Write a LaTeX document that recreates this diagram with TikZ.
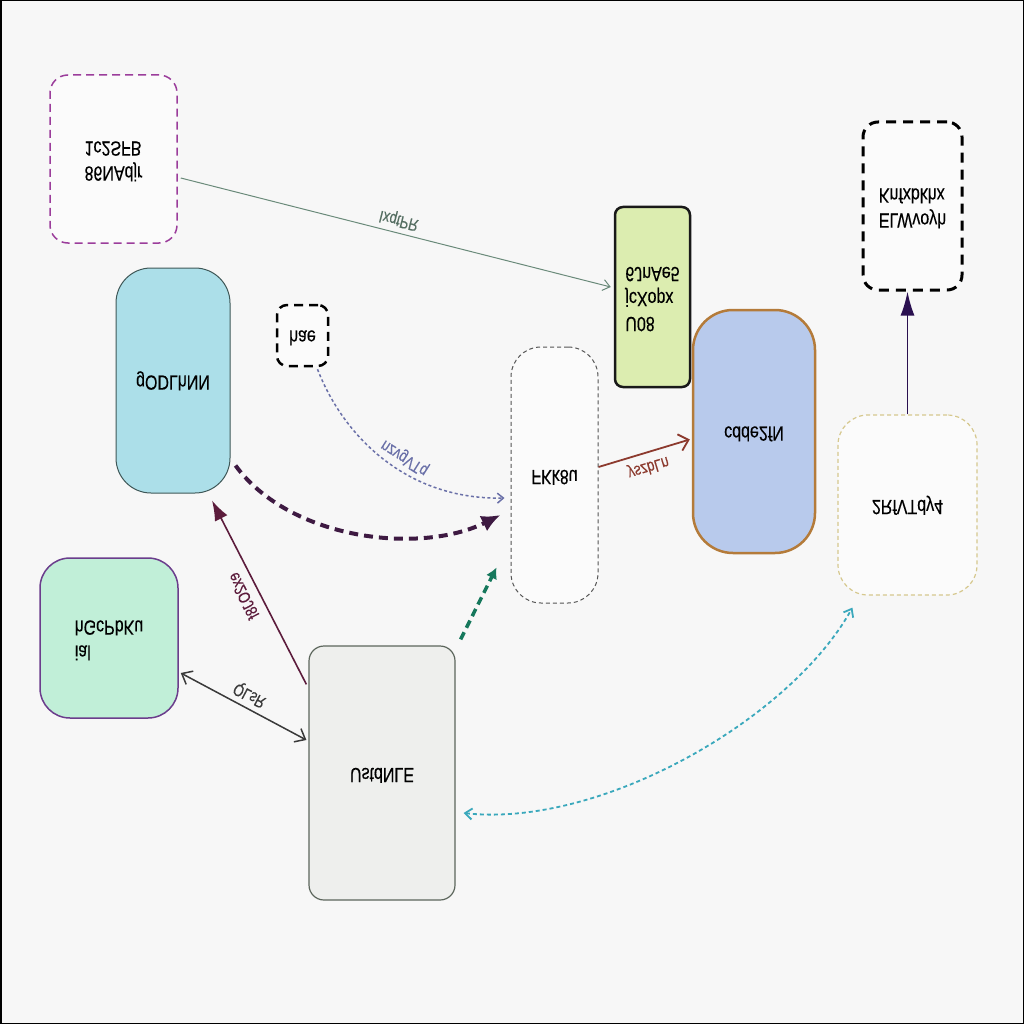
\documentclass[tikz,border=0pt]{standalone}
\usepackage{fontspec}
\setmainfont{Liberation Sans}
\usetikzlibrary{arrows.meta,calc}
\definecolor{bg}{HTML}{F7F7F7}
\definecolor{cA}{HTML}{9B3D9B}
\definecolor{cEa}{HTML}{6A8A7A}
\definecolor{cB}{HTML}{ACDFE9}
\definecolor{cBd}{HTML}{3F5858}
\definecolor{cD}{HTML}{DCEDB0}
\definecolor{cE}{HTML}{B8CAEC}
\definecolor{cEd}{HTML}{B47B3A}
\definecolor{cF}{HTML}{555555}
\definecolor{cH}{HTML}{D6C88E}
\definecolor{cI}{HTML}{C1EFD8}
\definecolor{cId}{HTML}{6B3D8C}
\definecolor{cJ}{HTML}{EEEFED}
\definecolor{cJd}{HTML}{5C665C}
\definecolor{cEb}{HTML}{6A70A8}
\definecolor{cEc}{HTML}{3E1A42}
\definecolor{cEd4}{HTML}{5C1C3C}
\definecolor{cEe}{HTML}{3A3A3A}
\definecolor{cEf}{HTML}{16785C}
\definecolor{cEg}{HTML}{8C3A2E}
\definecolor{cEh}{HTML}{2A1050}
\definecolor{cEi}{HTML}{3AA8BC}
\newcommand{\fl}[1]{\scalebox{0.78}[-1]{\addfontfeatures{FakeBold=0.35}\begin{tabular}{@{}l@{}}#1\end{tabular}}}
\begin{document}
\begin{tikzpicture}[x=1pt,y=-1pt,
  every node/.style={font=\fontsize{20.5}{25}\selectfont},
  box/.style={rectangle, inner sep=0pt, align=center},
  lbl/.style={font=\fontsize{17}{20}\selectfont, inner sep=3pt}]
\useasboundingbox (0,0) rectangle (1024,1024);
\fill[bg] (0,0) rectangle (1024,1024);
\draw[black, line width=1.5pt] (0.75,0.75) rectangle (1023.25,1023.25);

\node[box, draw=cA, line width=1.5pt, dash pattern=on 8pt off 5pt, fill=white!50!bg, rounded corners=18pt, minimum width=127pt, minimum height=168pt] (A) at (113.5,159) {\fl{86NAdjr\\1c2SFB}};
\node[box, draw=cBd, line width=1pt, fill=cB, rounded corners=35pt, minimum width=114pt, minimum height=225pt] (B) at (173,380.5) {\fl{gODLhNN}};
\node[box, draw=black, line width=2.5pt, dash pattern=on 9pt off 6pt, fill=white!50!bg, rounded corners=10pt, minimum width=51pt, minimum height=61pt] (C) at (302.5,335.5) {\fl{hae}};
\node[box, draw=black!90, line width=2.5pt, fill=cD, rounded corners=8pt, minimum width=75pt, minimum height=180pt] (D) at (652.5,297) {\fl{U08\\jcXopx\\6JnAe5}};
\node[box, draw=cEd, line width=2.5pt, fill=cE, rounded corners=40pt, minimum width=122pt, minimum height=243pt] (E) at (754,431.5) {\fl{cdde2fN}};
\node[box, draw=cF, line width=1pt, dash pattern=on 4pt off 3pt, fill=white!50!bg, rounded corners=30pt, minimum width=87pt, minimum height=256pt] (F) at (554.5,475) {\fl{FKk8u}};
\node[box, draw=black, line width=3pt, dash pattern=on 10pt off 7pt, fill=white!50!bg, rounded corners=15pt, minimum width=99pt, minimum height=168pt] (G) at (912.5,206) {\fl{ELWvoyh\\Knfxbkhx}};
\node[box, draw=cH, line width=1.2pt, dash pattern=on 4pt off 3pt, fill=white!50!bg, rounded corners=30pt, minimum width=139pt, minimum height=180pt] (H) at (907.5,505) {\fl{2RfVTdy4}};
\node[box, draw=cId, line width=1.5pt, fill=cI, rounded corners=30pt, minimum width=138pt, minimum height=160pt] (I) at (109,638) {\fl{ial\\hGcPbKu}};
\node[box, draw=cJd, line width=1.2pt, fill=cJ, rounded corners=15pt, minimum width=146pt, minimum height=254pt] (J) at (382,773) {\fl{UstdNLE}};

% A -> D
\draw[cEa, line width=1pt, -{Straight Barb[length=7pt,width=11pt]}] ($(A.east)+(3,19)$) -- node[lbl, sloped, above, text=cEa!80!black] {\fl{IxqtPR}} ($(D.west)+(-3,-10)$);
% C -> F
\draw[cEb, line width=1.5pt, dash pattern=on 3pt off 2.5pt, -{Straight Barb[length=6pt,width=10pt]}] ($(C.south)+(15,2)$) .. controls (345,440) and (410,500) .. ($(F.west)+(-6,23)$) node[lbl, pos=0.56, sloped, above, text=cEb] {\fl{nzvgVTq}};
% B -> F
\draw[cEc, line width=4pt, dash pattern=on 9pt off 6pt, -{Latex[length=19pt,width=17pt]}] ($(B.south east)+(5,-28)$) .. controls (290,540) and (420,555) .. ($(F.west)+(-10,40)$);
% J -> B
\draw[cEd4, line width=1.6pt, -{Latex[length=20pt,width=14pt]}] ($(J.north west)+(-2,39)$) -- node[lbl, sloped, below, pos=0.52, text=cEd4] {\fl{ex2OJ8f}} ($(B.south)+(39,7)$);
% I <-> J
\draw[cEe, line width=1.5pt, {Straight Barb[length=9pt,width=15pt]}-{Straight Barb[length=9pt,width=15pt]}] ($(I.east)+(2,35)$) -- node[lbl, sloped, above, text=cEe] {\fl{QLsR}} ($(J.west)+(-2,-33)$);
% J -> F
\draw[cEf, line width=3.5pt, dash pattern=on 8pt off 5pt, -{Latex[length=11pt,width=12pt]}] ($(J.north east)+(5,-6)$) -- ($(F.south west)+(-14,-36)$);
% F -> E
\draw[cEg, line width=1.8pt, -{Straight Barb[length=9pt,width=17pt]}] ($(F.east)+(0,-8)$) -- node[lbl, sloped, below, text=cEg] {\fl{yszbLn}} ($(E.west)+(-2,8)$);
% H -> G
\draw[cEh, line width=1.8pt, -{Latex[length=24pt,width=14pt]}] (H.north) -- (H.north |- G.south);
% H <-> J
\draw[cEi, line width=1.8pt, dash pattern=on 4pt off 3pt, {Straight Barb[length=7pt,width=11pt]}-{Straight Barb[length=7pt,width=11pt]}] ($(J.east)+(8,40)$) .. controls (600,828) and (790,720) .. ($(H.south west)+(15,12)$);
\end{tikzpicture}
\end{document}
